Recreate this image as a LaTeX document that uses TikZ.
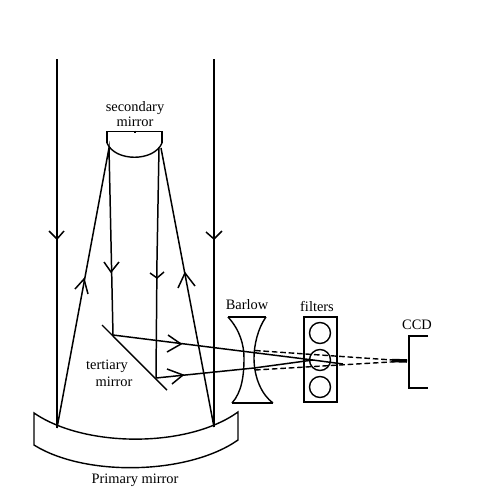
\documentclass[tikz,border=0pt]{standalone}
\usepackage{fontspec}
\setmainfont{Liberation Serif}
\usepackage{tikz}
\usetikzlibrary{calc}

\tikzset{
    ray/.style={line width=0.85pt, line join=miter},
    raydash/.style={line width=0.8pt, dash pattern=on 3.2pt off 1.6pt},
    optic/.style={line width=0.8pt},
    lbl/.style={font=\fontsize{8.2}{9}\selectfont, inner sep=0pt}
}

\begin{document}
\begin{tikzpicture}[x=0.02cm, y=-0.02cm]
    \useasboundingbox (0,0) rectangle (491,491);

    \coordinate (SL) at (107,143);
    \coordinate (SR) at (162,143);
    \coordinate (PL) at (57,428);
    \coordinate (PR) at (214,427);
    \coordinate (HL) at (109,148);
    \coordinate (HR) at (159,148);
    \coordinate (TA) at (113,335);
    \coordinate (TB) at (156,378);
    \coordinate (F) at (313,360);
    \coordinate (C) at (407,361);

    \draw[optic] (SL) -- (107,131.5) -- (162,131.5) -- (SR);
    \draw[optic] (135,130.5) -- (135,132.5);
    \draw[optic] (SL) .. controls (115,162) and (154,162) .. (SR);

    \draw[optic] (34,413) .. controls (85,448) and (188,448) .. (238,412)
        -- (238,440) .. controls (188,475) and (85,477) .. (34,445) -- cycle;

    \draw[ray] (57,59) -- (PL);
    \draw[ray] (214,59) -- (PR);
    \draw[ray] (PL) -- (HL) -- (TA);
    \draw[ray] (PR) -- (161,148);
    \draw[ray] (HR) -- (157,260) -- (TB);

    \draw[ray] (49,231) -- (57,239) -- (64,231);
    \draw[ray] (206,232) -- (214,239) -- (222,231);
    \draw[ray] (75,289) -- (84,279) -- (88,294);
    \draw[ray] (178,288) -- (185,273) -- (195,286);
    \draw[ray] (104,262) -- (111,272) -- (119,262);
    \draw[ray] (150,273) -- (157,278) -- (164,272);

    \draw[optic] (102,325) -- (167,390);
    \draw[ray] (TA) -- (F);
    \draw[ray] (TB) -- (254,368) -- (F);
    \draw[ray] (168,335) -- (181,344) -- (167,352);
    \draw[ray] (167,369) -- (183,375) -- (172,384);

    \draw[optic] (228,317) -- (266,317);
    \draw[optic] (232,403) -- (273,403);
    \draw[optic] (228,317) .. controls (240,330) and (244,345) .. (244,358)
        .. controls (244,375) and (242,392) .. (232,403);
    \draw[optic] (266,317) .. controls (258,328) and (254,345) .. (254,358)
        .. controls (254,378) and (262,395) .. (273,403);

    \draw[optic] (304,317) rectangle (337,402);
    \draw[optic] (320,333) circle (10.5);
    \draw[optic] (320,360) circle (10.5);
    \draw[optic] (320,387) circle (10.5);

    \draw[raydash] (255,350.5) -- (C);
    \draw[raydash] (255,370) -- (C);
    \draw[ray] (F) -- (343,364);
    \draw[line width=2pt] (392,360.5) -- (C);

    \draw[optic] (428,336) -- (409,336) -- (409,388) -- (428,388);

    \node[lbl] (secondary) at (135,108) {secondary};
    \node[lbl] (secondary2) at (135,122) {mirror};
    \node[lbl] (tertiary) at (107,366) {tertiary};
    \node[lbl] (tertiary2) at (114,382) {mirror};
    \node[lbl] (primary) at (135,480) {Primary mirror};
    \node[lbl] (barlow) at (247,305) {Barlow};
    \node[lbl] (filters) at (317,306) {filters};
    \node[lbl] (ccd) at (417,325) {CCD};
\end{tikzpicture}
\end{document}
